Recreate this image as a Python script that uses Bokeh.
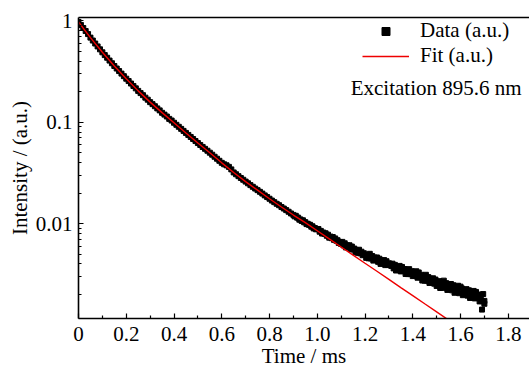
from bokeh.plotting import figure
from bokeh.models import (Range1d, FixedTicker, CustomJSTickFormatter, Legend, LegendItem,
                          Label, LinearAxis)
from bokeh.embed import file_html
from bokeh.resources import INLINE

# ---- data ----
# sampling times: 0.01 ms steps up to 0.90 ms, then 0.005 ms steps to 1.70 ms, plus two stray points
data_t = ([round(0.01 * i, 3) for i in range(91)]
          + [round(0.905 + 0.005 * i, 3) for i in range(160)]
          + [1.69, 1.70])
data_i = [
    # 0.00 - 0.90 ms
    0.977, 0.912, 0.851, 0.794, 0.741, 0.684, 0.640, 0.598, 0.560, 0.524,
    0.490, 0.460, 0.433, 0.406, 0.382, 0.359, 0.339, 0.320, 0.302, 0.285,
    0.269, 0.255, 0.241, 0.228, 0.216, 0.204, 0.194, 0.185, 0.175, 0.167,
    0.158, 0.151, 0.144, 0.137, 0.131, 0.124, 0.119, 0.114, 0.108, 0.104,
    0.0989, 0.0944, 0.0902, 0.0861, 0.0822, 0.0785, 0.0750, 0.0716, 0.0684, 0.0653,
    0.0624, 0.0597, 0.0571, 0.0547, 0.0524, 0.0501, 0.0479, 0.0457, 0.0437, 0.0417,
    0.0398, 0.0385, 0.0376, 0.0363, 0.0343, 0.0320, 0.0307, 0.0294, 0.0282, 0.0271,
    0.0260, 0.0250, 0.0240, 0.0231, 0.0222, 0.0214, 0.0206, 0.0198, 0.0190, 0.0183,
    0.0176, 0.0169, 0.0163, 0.0157, 0.0152, 0.0146, 0.0141, 0.0136, 0.0131, 0.0126,
    0.0122,
    # 0.905 - 1.000 ms
    0.01180, 0.01195, 0.01148, 0.01145, 0.01095, 0.01100, 0.01062, 0.01079, 0.01031, 0.01034,
    0.00990, 0.00998, 0.00973, 0.00974, 0.00934, 0.00941, 0.00897, 0.00905, 0.00879, 0.00886,
    # 1.005 - 1.100 ms
    0.00884, 0.00833, 0.00848, 0.00799, 0.00818, 0.00794, 0.00803, 0.00759, 0.00778, 0.00728,
    0.00746, 0.00719, 0.00738, 0.00692, 0.00715, 0.00679, 0.00686, 0.00646, 0.00659, 0.00630,
    # 1.105 - 1.200 ms
    0.00661, 0.00611, 0.00640, 0.00583, 0.00611, 0.00583, 0.00612, 0.00560, 0.00594, 0.00555,
    0.00568, 0.00524, 0.00546, 0.00515, 0.00553, 0.00509, 0.00529, 0.00488, 0.00511, 0.00493,
    # 1.205 - 1.300 ms
    0.00460, 0.00490, 0.00455, 0.00504, 0.00453, 0.00480, 0.00432, 0.00463, 0.00444, 0.00464,
    0.00420, 0.00451, 0.00401, 0.00430, 0.00407, 0.00437, 0.00390, 0.00426, 0.00391, 0.00406,
    # 1.305 - 1.400 ms
    0.00400, 0.00383, 0.00403, 0.00362, 0.00392, 0.00345, 0.00374, 0.00352, 0.00383, 0.00338,
    0.00374, 0.00341, 0.00357, 0.00319, 0.00344, 0.00318, 0.00356, 0.00318, 0.00340, 0.00304,
    # 1.405 - 1.500 ms
    0.00328, 0.00307, 0.00339, 0.00293, 0.00330, 0.00297, 0.00313, 0.00275, 0.00300, 0.00274,
    0.00313, 0.00274, 0.00297, 0.00260, 0.00286, 0.00272, 0.00289, 0.00256, 0.00281, 0.00243,
    # 1.505 - 1.600 ms
    0.00253, 0.00271, 0.00232, 0.00259, 0.00233, 0.00274, 0.00235, 0.00259, 0.00222, 0.00249,
    0.00235, 0.00254, 0.00220, 0.00247, 0.00208, 0.00234, 0.00216, 0.00244, 0.00206, 0.00239,
    # 1.605 - 1.700 ms
    0.00230, 0.00197, 0.00221, 0.00209, 0.00226, 0.00195, 0.00220, 0.00185, 0.00207, 0.00192,
    0.00217, 0.00183, 0.00212, 0.00187, 0.00200, 0.00171, 0.00191, 0.00172, 0.00202, 0.00173,
    # stray points
    0.00142, 0.00162,
]

fit_t = [0.00, 0.05, 0.10, 0.15, 0.20, 0.25, 0.30, 0.35, 0.40, 0.45, 0.50, 0.55,
         0.60, 0.65, 0.70, 0.75, 0.80, 0.85, 0.90, 0.95, 1.00, 1.05, 1.10, 1.15,
         1.20, 1.25, 1.30, 1.35, 1.40, 1.45, 1.50, 1.55, 1.60]
fit_i = [0.977, 0.684, 0.490, 0.359, 0.269, 0.204, 0.158, 0.1245, 0.0989, 0.0785,
         0.0624, 0.0501, 0.0398, 0.0320, 0.0260, 0.0214, 0.0176, 0.0146, 0.01216,
         0.01023, 0.00851, 0.00708, 0.00589, 0.00490, 0.00407, 0.00339, 0.00282,
         0.00234, 0.00195, 0.00162, 0.00135, 0.00112, 0.000933]

x_ticks = [0, 0.2, 0.4, 0.6, 0.8, 1.0, 1.2, 1.4, 1.6, 1.8]
x_minor = [0.1, 0.3, 0.5, 0.7, 0.9, 1.1, 1.3, 1.5, 1.7]
y_ticks = [0.01, 0.1, 1]
y_minor = [0.002, 0.003, 0.004, 0.005, 0.006, 0.007, 0.008, 0.009,
           0.02, 0.03, 0.04, 0.05, 0.06, 0.07, 0.08, 0.09,
           0.2, 0.3, 0.4, 0.5, 0.6, 0.7, 0.8, 0.9]

FONT = "Liberation Serif"
FS = "21px"

p = figure(width=529, height=371, y_axis_type="log",
           x_range=Range1d(0, 1.889), y_range=Range1d(0.00116, 1.08),
           output_backend="svg", toolbar_location=None,
           min_border_left=78, min_border_right=0, min_border_top=17, min_border_bottom=53)
p.grid.visible = False
p.outline_line_color = None

r_data = p.scatter(data_t, data_i, marker="square", size=5, color="black")
r_fit = p.line(fit_t, fit_i, line_color="#ee0000", line_width=1.4)

for ax in (p.xaxis[0], p.yaxis[0]):
    ax.axis_line_width = 1.6
    ax.axis_line_color = "black"
    ax.major_tick_in = 5
    ax.major_tick_out = 0
    ax.minor_tick_in = 3
    ax.minor_tick_out = 0
    ax.major_tick_line_color = "black"
    ax.minor_tick_line_color = "black"
    ax.major_tick_line_width = 1.2
    ax.minor_tick_line_width = 1.2
    ax.major_label_text_font = FONT
    ax.major_label_text_font_size = FS
    ax.major_label_text_color = "black"
    ax.axis_label_text_font = FONT
    ax.axis_label_text_font_size = FS
    ax.axis_label_text_font_style = "normal"
    ax.axis_label_text_color = "black"

p.xaxis.ticker = FixedTicker(ticks=x_ticks, minor_ticks=x_minor)
p.xaxis.formatter = CustomJSTickFormatter(code="return tick == 0 ? '0' : tick.toFixed(1);")
p.xaxis.axis_label = "Time / ms"
p.xaxis.major_label_standoff = 8
p.xaxis.axis_label_standoff = 0

p.yaxis.ticker = FixedTicker(ticks=y_ticks, minor_ticks=y_minor)
p.yaxis.formatter = CustomJSTickFormatter(code="return tick.toString();")
p.yaxis.axis_label = "Intensity / (a.u.)"
p.yaxis.major_label_standoff = 6
p.yaxis.axis_label_standoff = 1

# top frame line (no right-hand border in the reference)
top = LinearAxis(ticker=FixedTicker(ticks=[]), axis_line_width=1.6, axis_line_color="black",
                 major_tick_in=0, major_tick_out=0, minor_tick_in=0, minor_tick_out=0)
p.add_layout(top, "above")

legend = Legend(items=[LegendItem(label="Data (a.u.)", renderers=[r_data]),
                       LegendItem(label="Fit (a.u.)", renderers=[r_fit])],
                location=(284, 250), background_fill_alpha=0, border_line_alpha=0,
                padding=0, margin=0, spacing=0, glyph_width=47, glyph_height=20,
                label_height=20, label_standoff=11,
                label_text_font=FONT, label_text_font_size=FS, label_text_color="black")
p.add_layout(legend)

p.add_layout(Label(x=1.14, y=0.22, text="Excitation 895.6 nm", text_font=FONT,
                   text_font_size=FS, text_color="black", text_baseline="alphabetic"))

open("out.html", "w").write(file_html(p, INLINE))
